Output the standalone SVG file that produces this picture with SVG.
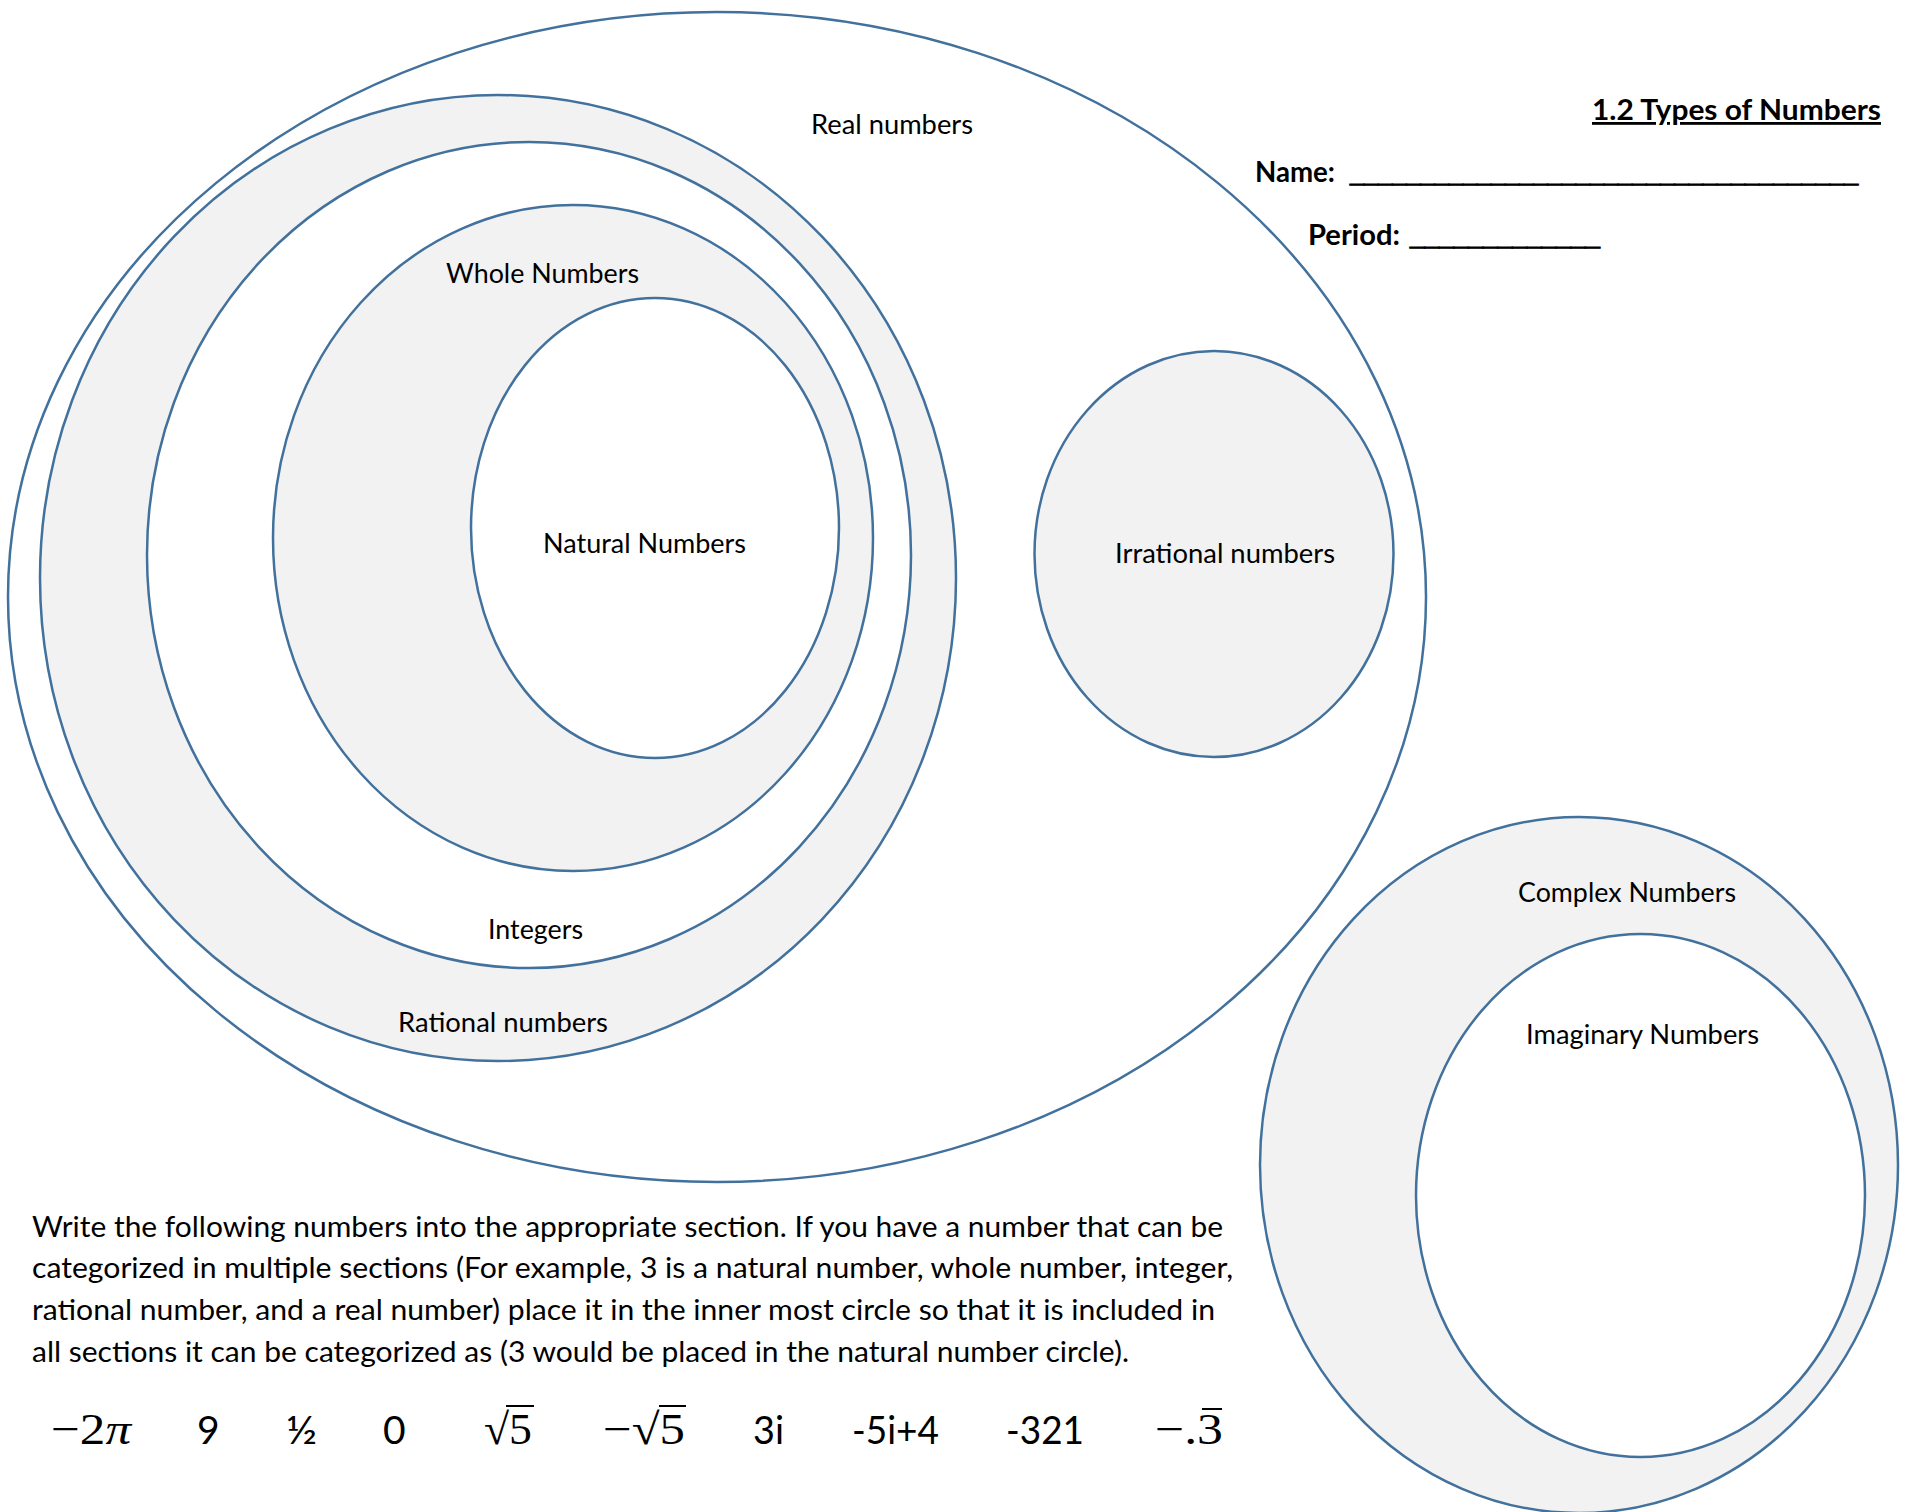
<svg xmlns="http://www.w3.org/2000/svg" width="1908" height="1512" viewBox="0 0 1908 1512">
<style>
.set{stroke:#41719C;stroke-width:2.5}
.g{fill:#F2F2F2}
.w{fill:#FFFFFF}
.lbl{font-family:Lato,"Liberation Sans",sans-serif;font-size:27px;fill:#000}
.hdr{font-family:Lato,"Liberation Sans",sans-serif;font-size:28px;font-weight:bold;fill:#000}
.uline{font-family:"Liberation Sans",Arial,sans-serif;font-weight:bold;stroke:#000;stroke-width:1.3}
.para{font-family:Lato,"Liberation Sans",sans-serif;font-size:28px;fill:#000}
.num{font-family:Lato,"Liberation Sans",sans-serif;font-size:39px;fill:#000}
.math{font-family:"Liberation Serif","DejaVu Serif",serif;font-size:44px;fill:#000}
.bar{stroke:#000;stroke-width:2}
</style>
<rect x="0" y="0" width="1908" height="1512" fill="#FFFFFF"/>

<g id="real">
<ellipse class="set w" cx="717" cy="597" rx="709" ry="585"/>
<text class="lbl" x="811" y="134" textLength="162" lengthAdjust="spacingAndGlyphs">Real numbers</text>
</g>
<g id="rational">
<ellipse class="set g" cx="498" cy="578" rx="458" ry="483"/>
<text class="lbl" x="398" y="1032" textLength="210" lengthAdjust="spacingAndGlyphs">Rational numbers</text>
</g>
<g id="integers">
<ellipse class="set w" cx="529" cy="555" rx="382" ry="413"/>
<text class="lbl" x="488" y="939" textLength="95" lengthAdjust="spacingAndGlyphs">Integers</text>
</g>
<g id="whole">
<ellipse class="set g" cx="573" cy="538" rx="300" ry="333"/>
<text class="lbl" x="446" y="283" textLength="193" lengthAdjust="spacingAndGlyphs">Whole Numbers</text>
</g>
<g id="natural">
<ellipse class="set w" cx="655" cy="528" rx="184" ry="230"/>
<text class="lbl" x="543" y="553" textLength="203" lengthAdjust="spacingAndGlyphs">Natural Numbers</text>
</g>
<g id="irrational">
<ellipse class="set g" cx="1214" cy="554" rx="179.5" ry="203"/>
<text class="lbl" x="1115" y="563" textLength="220" lengthAdjust="spacingAndGlyphs">Irrational numbers</text>
</g>
<g id="complex">
<ellipse class="set g" cx="1579" cy="1165" rx="319" ry="348"/>
<text class="lbl" x="1518" y="902" textLength="218" lengthAdjust="spacingAndGlyphs">Complex Numbers</text>
</g>
<g id="imaginary">
<ellipse class="set w" cx="1640.5" cy="1195.5" rx="224.5" ry="261.5"/>
<text class="lbl" x="1526" y="1044" textLength="233" lengthAdjust="spacingAndGlyphs">Imaginary Numbers</text>
</g>

<g id="connectors"></g>

<g id="header">
<text class="hdr" x="1592" y="120" textLength="289" lengthAdjust="spacingAndGlyphs" style="text-decoration:underline">1.2 Types of Numbers</text>
<text class="hdr" x="1255" y="182"><tspan textLength="80" lengthAdjust="spacingAndGlyphs">Name:</tspan><tspan class="uline" x="1350" textLength="508" lengthAdjust="spacingAndGlyphs">____________________________________</tspan></text>
<text class="hdr" x="1308" y="245"><tspan textLength="92" lengthAdjust="spacingAndGlyphs">Period:</tspan><tspan class="uline" x="1410" textLength="190" lengthAdjust="spacingAndGlyphs">_____________</tspan></text>
</g>

<g id="instructions">
<text class="para" x="32" y="1237" textLength="1191" lengthAdjust="spacingAndGlyphs">Write the following numbers into the appropriate section. If you have a number that can be</text>
<text class="para" x="32" y="1278" textLength="1201" lengthAdjust="spacingAndGlyphs">categorized in multiple sections (For example, 3 is a natural number, whole number, integer,</text>
<text class="para" x="32" y="1320" textLength="1183" lengthAdjust="spacingAndGlyphs">rational number, and a real number) place it in the inner most circle so that it is included in</text>
<text class="para" x="32" y="1362" textLength="1097" lengthAdjust="spacingAndGlyphs">all sections it can be categorized as (3 would be placed in the natural number circle).</text>
</g>

<g id="numbers">
<text class="math" x="51" y="1444" textLength="80" lengthAdjust="spacingAndGlyphs">−2<tspan font-style="italic">π</tspan></text>
<text class="num" x="197" y="1444">9</text>
<text class="num" x="286" y="1444" textLength="31" lengthAdjust="spacingAndGlyphs">½</text>
<text class="num" x="383" y="1444">0</text>
<text class="math" x="484" y="1444" textLength="48" lengthAdjust="spacingAndGlyphs">√5</text>
<line class="bar" x1="506" y1="1406" x2="534" y2="1406"/>
<text class="math" x="603" y="1444" textLength="82" lengthAdjust="spacingAndGlyphs">−√5</text>
<line class="bar" x1="659" y1="1406" x2="686" y2="1406"/>
<text class="num" x="753" y="1444" textLength="31" lengthAdjust="spacingAndGlyphs">3i</text>
<text class="num" x="852" y="1444" textLength="87" lengthAdjust="spacingAndGlyphs">-5i+4</text>
<text class="num" x="1006" y="1444" textLength="78" lengthAdjust="spacingAndGlyphs">-321</text>
<text class="math" x="1155" y="1444" textLength="68" lengthAdjust="spacingAndGlyphs">−.3</text>
<line class="bar" x1="1202" y1="1409" x2="1222" y2="1409"/>
</g>
</svg>
